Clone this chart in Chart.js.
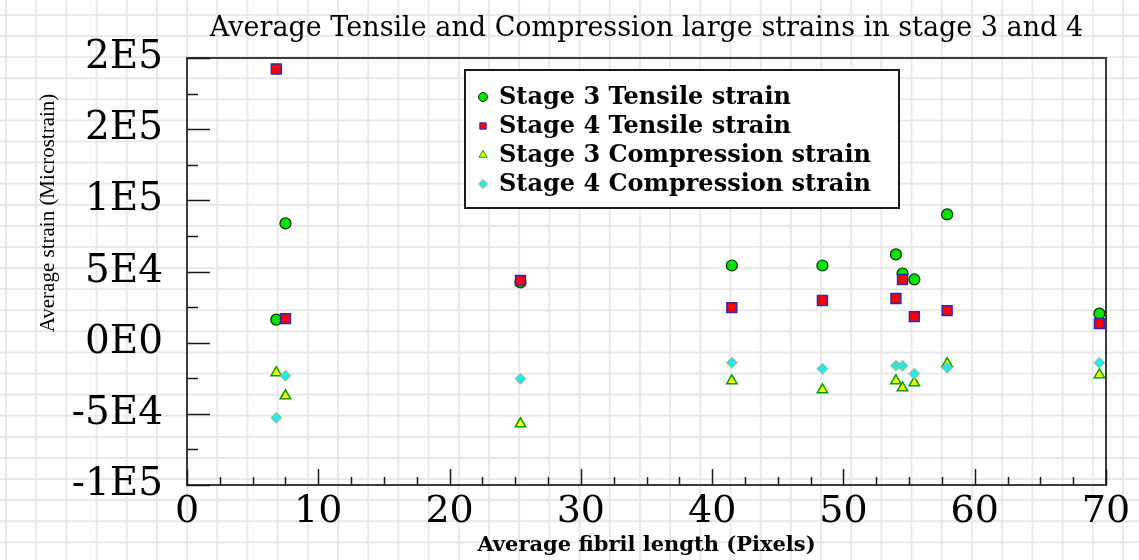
<!DOCTYPE html>
<html>
<head>
<meta charset="utf-8">
<script src="https://cdn.jsdelivr.net/npm/chart.js@4.4.0/dist/chart.umd.min.js"></script>
<style>
  html, body {
    margin: 0;
    padding: 0;
    width: 1139px;
    height: 560px;
    overflow: hidden;
    background-color: #fff;
    background-image:
      linear-gradient(to right, #e8e8e8 2px, transparent 2px),
      linear-gradient(to bottom, #e8e8e8 2px, transparent 2px);
    background-size: 30.2px 21.1px;
    background-position: 5px 14px;
  }
  canvas { display: block; }
</style>
</head>
<body>
<canvas id="strainChart" width="1139" height="560"></canvas>
<script>
// Average fibril length (pixels), shared by all four series
const fibrilLength = [6.8, 7.5, 25.4, 41.5, 48.4, 54.0, 54.5, 55.4, 57.9, 69.5];

// Average strain (microstrain)
const stage3Tensile = [16200, 83800, 42300, 54200, 54200, 62000, 48600, 44400, 90100, 20400];
const stage4Tensile = [192300, 16900, 43700, 24600, 29600, 31000, 44400, 18300, 22500, 13400];
const stage3Compression = [-21100, -37300, -57000, -26800, -33100, -26800, -31700, -28200, -14800, -22500];
const stage4Compression = [-52800, -23200, -25400, -14100, -18300, -16200, -16200, -21800, -17600, -14100];

const seriesNames = [
  'Stage 3 Tensile strain',
  'Stage 4 Tensile strain',
  'Stage 3 Compression strain',
  'Stage 4 Compression strain'
];

// Axis ticks
const yTickValues = [-100000, -50000, 0, 50000, 100000, 150000, 200000];
const yTickLabels = ['-1E5', '-5E4', '0E0', '5E4', '1E5', '2E5', '2E5'];
const xTickValues = [0, 10, 20, 30, 40, 50, 60, 70];
const xTickLabels = ['0', '10', '20', '30', '40', '50', '60', '70'];

const WIDE = "'DejaVu Serif', 'Liberation Serif', serif";
const TIMES = "'Liberation Serif', 'Times New Roman', serif";

function toPoints(values) {
  return values.map((v, i) => ({ x: fibrilLength[i], y: v }));
}

// Inner tick marks, plot frame, rotated y title and boxed legend
const framePlugin = {
  id: 'frame',
  afterDraw(chart) {
    const ctx = chart.ctx;
    const area = chart.chartArea;
    const xs = chart.scales.x;
    const ys = chart.scales.y;
    ctx.save();

    // frame
    ctx.strokeStyle = '#3c3c3c';
    ctx.lineWidth = 2;
    ctx.strokeRect(area.left, area.top, area.right - area.left, area.bottom - area.top);

    // y ticks, pointing inward
    ctx.strokeStyle = '#1a1a1a';
    ctx.lineWidth = 1.5;
    for (let v = ys.min; v <= ys.max; v += 25000) {
      const py = Math.round(ys.getPixelForValue(v)) + 0.5;
      const len = v % 50000 === 0 ? 23 : 11;
      ctx.beginPath();
      ctx.moveTo(area.left, py);
      ctx.lineTo(area.left + len, py);
      ctx.stroke();
    }
    // x ticks, pointing inward
    for (let v = xs.min; v <= xs.max; v += 2.5) {
      const px = Math.round(xs.getPixelForValue(v)) + 0.5;
      const len = v % 10 === 0 ? 16 : 8;
      ctx.beginPath();
      ctx.moveTo(px, area.bottom);
      ctx.lineTo(px, area.bottom - len);
      ctx.stroke();
    }

    // y axis title
    ctx.fillStyle = '#000';
    ctx.font = '21px ' + TIMES;
    ctx.textAlign = 'center';
    ctx.textBaseline = 'middle';
    ctx.translate(48, 213);
    ctx.rotate(-Math.PI / 2);
    ctx.fillText('Average strain (Microstrain)', 0, 0);
    ctx.restore();

    // legend
    ctx.save();
    const box = { left: 465, top: 70, width: 434, height: 138 };
    ctx.fillStyle = '#fff';
    ctx.fillRect(box.left, box.top, box.width, box.height);
    ctx.strokeStyle = '#1a1a1a';
    ctx.lineWidth = 2;
    ctx.strokeRect(box.left, box.top, box.width, box.height);
    ctx.font = 'bold 24px ' + WIDE;
    ctx.textAlign = 'left';
    ctx.textBaseline = 'middle';
    chart.data.datasets.forEach((ds, i) => {
      const cy = box.top + 27 + i * 29;
      ctx.fillStyle = ds.backgroundColor;
      ctx.strokeStyle = ds.borderColor;
      ctx.lineWidth = 1;
      Chart.helpers.drawPoint(ctx, {
        pointStyle: ds.pointStyle,
        rotation: 0,
        radius: 4.5,
        borderWidth: 1
      }, box.left + 18, cy);
      ctx.fillStyle = '#000';
      ctx.fillText(ds.label, box.left + 34, cy + 1);
    });
    ctx.restore();
  }
};

new Chart(document.getElementById('strainChart'), {
  type: 'scatter',
  data: {
    datasets: [
      {
        label: seriesNames[0],
        data: toPoints(stage3Tensile),
        pointStyle: 'circle',
        backgroundColor: '#00e400',
        borderColor: '#0a2a0a',
        pointRadius: 5.5,
        borderWidth: 1.2,
        order: 4
      },
      {
        label: seriesNames[1],
        data: toPoints(stage4Tensile),
        pointStyle: 'rect',
        backgroundColor: '#ff0000',
        borderColor: '#2a2ab8',
        pointRadius: 7,
        borderWidth: 1.5,
        order: 3
      },
      {
        label: seriesNames[2],
        data: toPoints(stage3Compression),
        pointStyle: 'triangle',
        backgroundColor: '#ffff00',
        borderColor: '#00a000',
        pointRadius: 6,
        borderWidth: 1.5,
        order: 2
      },
      {
        label: seriesNames[3],
        data: toPoints(stage4Compression),
        pointStyle: 'rectRot',
        backgroundColor: '#22e8e8',
        borderColor: '#c8b060',
        pointRadius: 5.5,
        borderWidth: 1,
        order: 1
      }
    ]
  },
  options: {
    responsive: false,
    animation: false,
    layout: {
      padding: { left: 0, right: 33, top: 0, bottom: 0 }
    },
    plugins: {
      legend: { display: false },
      tooltip: { enabled: false },
      title: {
        display: true,
        fullSize: false,
        text: 'Average Tensile and Compression large strains in stage 3 and 4',
        color: '#000',
        font: { family: WIDE, size: 27, weight: 'normal', lineHeight: 1.2 },
        padding: { top: 12.5, bottom: 13.1 }
      }
    },
    scales: {
      x: {
        type: 'linear',
        min: 0,
        max: 70,
        afterFit(scale) { scale.height = 75; },
        afterBuildTicks(scale) {
          scale.ticks = xTickValues.map(v => ({ value: v }));
        },
        grid: { display: false, drawTicks: false },
        border: { display: false },
        ticks: {
          padding: 8,
          color: '#000',
          font: { family: WIDE, size: 38, lineHeight: 1 },
          maxRotation: 0,
          autoSkip: false,
          callback: (v) => xTickLabels[xTickValues.indexOf(v)]
        },
        title: {
          display: true,
          text: 'Average fibril length (Pixels)',
          color: '#000',
          font: { family: WIDE, size: 21, weight: 'bold', lineHeight: 1.2 },
          padding: { top: 0, bottom: 2 }
        }
      },
      y: {
        type: 'linear',
        min: -100000,
        max: 200000,
        afterFit(scale) { scale.width = 187; },
        afterBuildTicks(scale) {
          scale.ticks = yTickValues.map(v => ({ value: v }));
        },
        grid: { display: false, drawTicks: false },
        border: { display: false },
        ticks: {
          padding: 24,
          color: '#000',
          font: { family: WIDE, size: 39, lineHeight: 1 },
          autoSkip: false,
          callback: (v) => yTickLabels[yTickValues.indexOf(v)]
        }
      }
    }
  },
  plugins: [framePlugin]
});
</script>
</body>
</html>
